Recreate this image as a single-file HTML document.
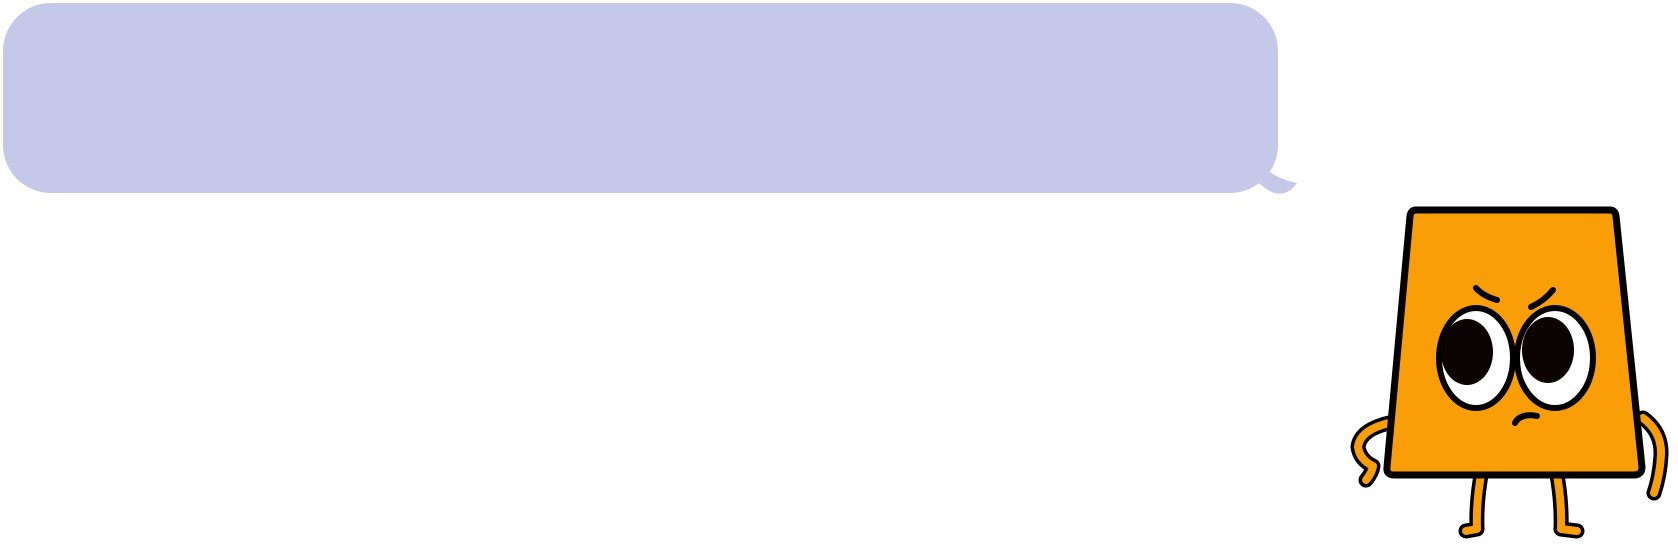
<!DOCTYPE html>
<html><head><meta charset="utf-8"><style>
html,body{margin:0;padding:0;background:#fff;width:1678px;height:556px;overflow:hidden}
svg{display:block}
</style></head><body>
<svg width="1678" height="556" viewBox="0 0 1678 556">
  <g>
    <rect x="3" y="3" width="1275" height="190" rx="48" fill="#c5c8e8"/>
    <path d="M1255 150 Q1262 176 1297 183 Q1285 200 1268 190 L1240 170 Z" fill="#c5c8e8"/>
  </g>
  <g stroke="#000" stroke-linecap="round" stroke-linejoin="round">
    <g>
      <path d="M1389 423 Q1360 430 1358 447 Q1360 460 1373 466 Q1372 473 1366 480" fill="none" stroke="#000" stroke-width="15"/>
      <path d="M1389 423 Q1360 430 1358 447 Q1360 460 1373 466 Q1372 473 1366 480" fill="none" stroke="#f99e06" stroke-width="8"/>
    </g>
    <g>
      <path d="M1643 418 Q1662 432 1661 455 Q1660 475 1654 493" fill="none" stroke="#000" stroke-width="15"/>
      <path d="M1643 418 Q1662 432 1661 455 Q1660 475 1654 493" fill="none" stroke="#f99e06" stroke-width="8"/>
    </g>
    <g>
      <path d="M1482 470 Q1476 500 1477 529 L1466 531" fill="none" stroke="#000" stroke-width="15"/>
      <path d="M1482 470 Q1476 500 1477 529 L1466 531" fill="none" stroke="#f99e06" stroke-width="8"/>
      <path d="M1556 470 Q1562 500 1561 529 L1577 531" fill="none" stroke="#000" stroke-width="15"/>
      <path d="M1556 470 Q1562 500 1561 529 L1577 531" fill="none" stroke="#f99e06" stroke-width="8"/>
    </g>
    <path d="M1416 210 L1610 210 Q1615 210 1616 216 L1642 467 Q1642 475 1634 475 L1394 475 Q1386 475 1387 467 L1410 216 Q1411 210 1416 210 Z" fill="#f99e06" stroke-width="7"/>
    <g>
      <ellipse cx="1476" cy="358" rx="37" ry="50" fill="#fff" stroke-width="6"/>
      <ellipse cx="1555" cy="358" rx="38" ry="50" fill="#fff" stroke-width="6"/>
      <ellipse cx="1467" cy="352" rx="26" ry="33" fill="#0b0204" stroke="none"/>
      <ellipse cx="1548" cy="350" rx="26" ry="33" fill="#0b0204" stroke="none"/>
    </g>
    <g fill="none" stroke-width="6">
      <path d="M1476 288 Q1483 296 1497 300"/>
      <path d="M1531 307 Q1544 301 1553 290"/>
    </g>
    <path d="M1515 423 Q1520 413 1537 416" fill="none" stroke-width="6"/>
  </g>
</svg>
</body></html>
